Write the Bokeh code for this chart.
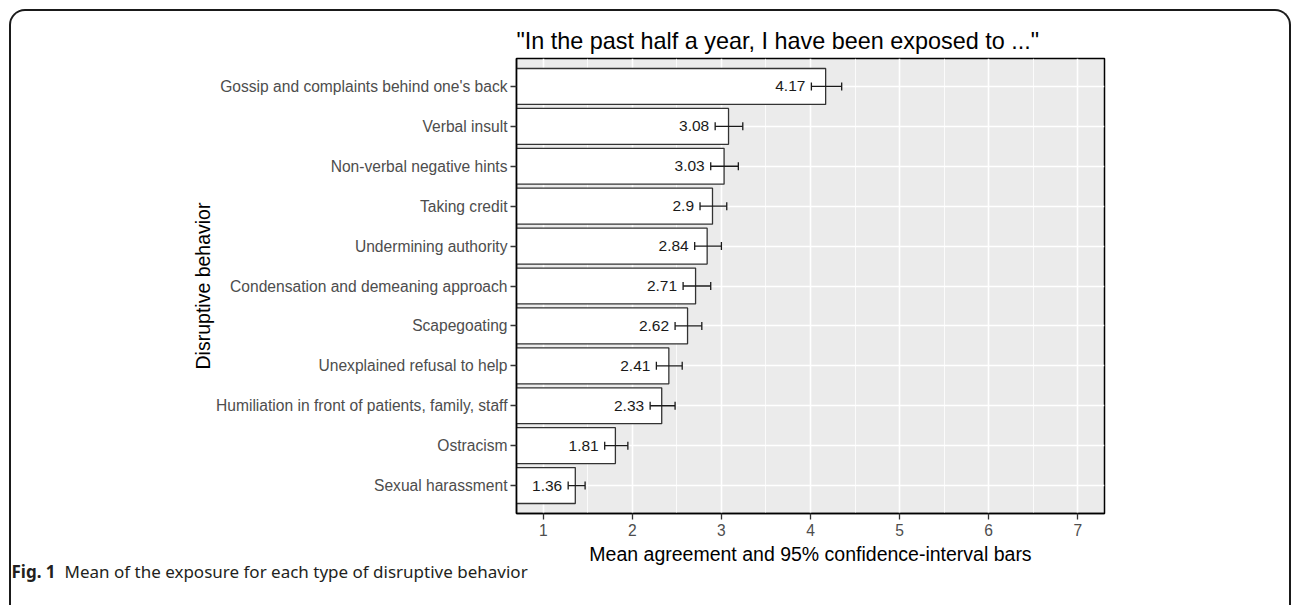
from bokeh.plotting import figure
from bokeh.models import FactorRange, Range1d, FixedTicker, Label, ColumnDataSource, InlineStyleSheet
from bokeh.core.properties import value
from bokeh.embed import file_html
from bokeh.resources import INLINE

behaviors = [
    "Gossip and complaints behind one's back",
    "Verbal insult",
    "Non-verbal negative hints",
    "Taking credit",
    "Undermining authority",
    "Condensation and demeaning approach",
    "Scapegoating",
    "Unexplained refusal to help",
    "Humiliation in front of patients, family, staff",
    "Ostracism",
    "Sexual harassment",
]
means = [4.17, 3.08, 3.03, 2.9, 2.84, 2.71, 2.62, 2.41, 2.33, 1.81, 1.36]
ci_low = [4.01, 2.93, 2.88, 2.76, 2.70, 2.57, 2.48, 2.27, 2.20, 1.69, 1.28]
ci_high = [4.35, 3.24, 3.19, 3.06, 3.00, 2.88, 2.78, 2.56, 2.48, 1.95, 1.47]
x_ticks = [1, 2, 3, 4, 5, 6, 7]
x_minor = [1.5, 2.5, 3.5, 4.5, 5.5, 6.5]

title_text = '"In the past half a year, I have been exposed to ..."'
x_title = "Mean agreement and 95% confidence-interval bars"
y_title = "Disruptive behavior"
caption_bold = "Fig. 1"
caption_text = "Mean of the exposure for each type of disruptive behavior"

FONT = "Liberation Sans"
FL, FR, FT, FB = 516, 1104, 58, 513
W, H = 1292, 605

src = ColumnDataSource(dict(
    cat=behaviors, mean=means, low=ci_low, high=ci_high,
    base=[0] * len(means), label=[f"{m:g}" for m in means],
))

# outer rounded figure frame (drawn by CSS around the page content)
frame_css = InlineStyleSheet(css="""
:host { position: relative; }
:host::after {
  content: "";
  position: absolute;
  left: 9px; top: 9px;
  width: 1282px; height: 596px;
  box-sizing: border-box;
  border: 2px solid #1a1a1a;
  border-bottom: none;
  border-radius: 16px 16px 0 0;
  pointer-events: none;
}
""")

p = figure(
    y_range=FactorRange(*reversed(behaviors), range_padding=0.2, range_padding_units="absolute"),
    x_range=Range1d(0.7, 7.3),
    frame_width=FR - FL, frame_height=FB - FT,
    min_border_left=FL, min_border_right=W - FR,
    min_border_top=FT, min_border_bottom=H - FB,
    output_backend="svg", toolbar_location=None,
    background_fill_color="#EBEBEB", border_fill_color="white",
    stylesheets=[frame_css],
)
p.outline_line_color = "black"
p.outline_line_width = 1.5

p.title.text = title_text
p.title.text_font = FONT
p.title.text_font_size = "23.4px"
p.title.text_font_style = "normal"
p.title.text_color = "black"
p.title.align = "left"
p.title.standoff = 10

p.xgrid.ticker = FixedTicker(ticks=x_ticks, minor_ticks=x_minor)
p.xgrid.grid_line_color = "white"
p.xgrid.grid_line_width = 1.6
p.xgrid.minor_grid_line_color = "white"
p.xgrid.minor_grid_line_width = 0.8
p.ygrid.grid_line_color = "white"
p.ygrid.grid_line_width = 1.6

p.xaxis.ticker = FixedTicker(ticks=x_ticks, minor_ticks=[])
for ax in (p.xaxis[0], p.yaxis[0]):
    ax.axis_line_color = "black"
    ax.axis_line_width = 1.5
    ax.major_tick_line_color = "#333333"
    ax.major_tick_line_width = 1.3
    ax.major_tick_out = 6
    ax.major_tick_in = 0
    ax.minor_tick_out = 0
    ax.minor_tick_in = 0
    ax.major_label_text_font = FONT
    ax.major_label_text_font_size = "15.6px"
    ax.major_label_text_color = "#4D4D4D"
    ax.axis_label_text_font = FONT
    ax.axis_label_text_font_size = "19.5px"
    ax.axis_label_text_font_style = "normal"
    ax.axis_label_text_color = "black"
p.xaxis.axis_label = x_title
p.yaxis.axis_label = y_title
p.xaxis.major_label_standoff = 4
p.yaxis.major_label_standoff = 3
p.xaxis.axis_label_standoff = 4
p.yaxis.axis_label_standoff = -1

p.hbar(y="cat", left="base", right="mean", height=0.9, source=src,
       fill_color="white", line_color="#333333", line_width=1.3)
p.segment(x0="low", x1="high", y0="cat", y1="cat", source=src,
          line_color="#1a1a1a", line_width=1.3)
p.scatter(x="low", y="cat", marker="dash", angle=1.5707963, size=8, source=src,
          line_color="#1a1a1a", line_width=1.3)
p.scatter(x="high", y="cat", marker="dash", angle=1.5707963, size=8, source=src,
          line_color="#1a1a1a", line_width=1.3)
p.text(x="low", y="cat", text="label", source=src, x_offset=-6,
       text_align="right", text_baseline="middle",
       text_font=value(FONT), text_font_size="15.5px", text_color="#1a1a1a")

# caption (canvas pixels, placed in a side panel so it is not clipped)
cap_kw = dict(x_units="canvas", y_units="canvas", text_font="Noto Sans", text_font_size="17px",
              text_color="#231f20", text_baseline="alphabetic", text_align="left")
p.add_layout(Label(text=caption_bold, x=11, y=571, text_font_style="bold", **cap_kw), "below")
p.add_layout(Label(text=caption_text, x=64, y=571, **cap_kw), "below")

open("out.html", "w").write(file_html(p, INLINE))
